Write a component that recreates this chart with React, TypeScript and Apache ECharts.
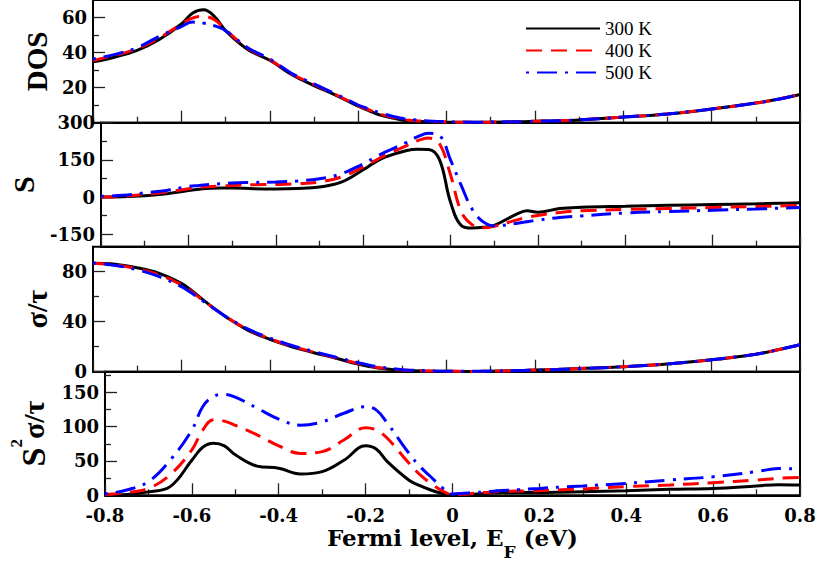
import React, { useEffect, useRef } from 'react';
import * as echarts from 'echarts';

// Fermi level (eV)
const X = [-0.8, -0.75, -0.7, -0.65, -0.6, -0.575, -0.55, -0.525, -0.5, -0.45, -0.4, -0.35, -0.3, -0.25, -0.2, -0.175, -0.15, -0.1, -0.075, -0.05, -0.025, 0, 0.025, 0.05, 0.075, 0.1, 0.15, 0.175, 0.2, 0.25, 0.3, 0.4, 0.5, 0.6, 0.7, 0.75, 0.8];

const TEMPS = ['300 K', '400 K', '500 K'];

const DOS_300 = [34.7, 37.5, 41.3, 47.5, 56.3, 62.5, 64.4, 60.6, 52.5, 41.8, 35.6, 27.4, 21.2, 15.6, 9.4, 6.8, 4.3, 1.5, 0.9, 0.6, 0.4, 0.3, 0.25, 0.2, 0.2, 0.3, 0.5, 0.6, 0.8, 1.1, 1.6, 3.2, 5.0, 7.8, 11.2, 13.4, 16.1];
const DOS_400 = [35.5, 38.5, 42.2, 48.4, 56.3, 59.7, 60.6, 58.7, 53.1, 42.4, 36.0, 27.8, 21.8, 15.9, 9.8, 7.3, 4.9, 1.9, 1.3, 0.8, 0.6, 0.4, 0.3, 0.25, 0.25, 0.3, 0.5, 0.6, 0.8, 1.1, 1.6, 3.2, 5.0, 7.8, 11.2, 13.4, 16.1];
const DOS_500 = [36.3, 39.0, 42.8, 49.3, 54.8, 57.4, 56.8, 55.3, 52.5, 42.8, 36.3, 28.1, 22.1, 16.3, 10.1, 7.8, 5.6, 2.4, 1.7, 1.1, 0.8, 0.6, 0.4, 0.3, 0.3, 0.35, 0.5, 0.6, 0.8, 1.1, 1.6, 3.2, 5.0, 7.8, 11.2, 13.4, 16.1];

const S_300 = [0, 1, 5, 13, 27, 32, 36, 37, 37, 34, 33, 35, 41, 60, 110, 138, 161, 188, 193, 192, 150, -20, -115, -125, -122, -114, -70, -55, -61, -46, -41, -37, -33, -30, -27, -25, -23];
const S_400 = [0, 3, 11, 21, 34, 39, 43, 45, 47, 50, 51, 54, 61, 81, 121, 145, 168, 208, 228, 238, 215, 90, -60, -112, -124, -118, -93, -82, -74, -62, -55, -50, -46, -42, -38, -36, -34];
const S_500 = [3, 7, 17, 27, 43, 47, 51, 54, 57, 59, 61, 65, 74, 94, 134, 158, 181, 221, 244, 257, 248, 150, 45, -50, -100, -116, -106, -99, -93, -82, -76, -64, -58, -53, -48, -45, -42];

const SIG_300 = [86.7, 85.9, 83.2, 78.7, 70.7, 64.5, 57.3, 50.5, 44.0, 33.3, 25.9, 20.0, 15.2, 10.7, 6.1, 4.2, 2.7, 1.1, 0.7, 0.5, 0.4, 0.3, 0.25, 0.2, 0.25, 0.4, 0.8, 1.0, 1.3, 1.8, 2.5, 4.0, 6.2, 9.5, 14.0, 17.5, 21.5];
const SIG_400 = [86.8, 85.5, 82.3, 77.3, 69.5, 63.5, 56.8, 50.3, 44.2, 33.8, 26.4, 20.4, 15.6, 11.0, 6.6, 4.6, 3.1, 1.3, 0.9, 0.6, 0.45, 0.35, 0.3, 0.25, 0.3, 0.45, 0.8, 1.0, 1.3, 1.8, 2.5, 4.0, 6.2, 9.5, 14.0, 17.5, 21.5];
const SIG_500 = [86.9, 85.0, 81.5, 76.0, 68.0, 62.5, 56.3, 50.2, 44.4, 34.3, 27.0, 21.0, 16.1, 11.5, 7.2, 5.2, 3.7, 1.6, 1.1, 0.8, 0.55, 0.4, 0.35, 0.3, 0.35, 0.5, 0.8, 1.0, 1.3, 1.8, 2.5, 4.0, 6.2, 9.5, 14.0, 17.5, 21.5];

const PF_300 = [0, 1, 5, 12.6, 51, 70, 75.7, 72, 59, 42.5, 39.5, 31, 34.5, 51, 72, 67, 49, 22, 14, 7.7, 3, 0.5, 0.5, 1.5, 2.8, 4, 4.2, 4.2, 4.2, 4.6, 5.3, 6.8, 8.7, 10, 13.6, 15.5, 15];
const PF_400 = [1, 4, 10, 30, 66, 95, 110, 108, 102, 88, 72, 61, 63.6, 80.6, 98.5, 95, 83, 46.6, 30, 17.4, 7, 1.4, 1.5, 3, 4.2, 5.3, 6.2, 6.5, 6.8, 8, 9.2, 12.6, 15, 18.4, 22.3, 24.7, 26];
const PF_500 = [2, 7.7, 20, 51, 95, 129, 144, 147, 143, 127, 111, 102, 107, 119.5, 129, 124, 105, 61, 42, 27, 12, 2, 3, 4, 5, 6.3, 8, 9, 10, 12, 13.6, 17.4, 22.3, 27, 34.5, 39, 38];

const X_MAJOR = [-0.8, -0.6, -0.4, -0.2, 0, 0.2, 0.4, 0.6, 0.8];
const X_MINOR = [-0.7, -0.5, -0.3, -0.1, 0.1, 0.3, 0.5, 0.7];

const DOS_TICKS = [20, 40, 60];
const DOS_MINOR = [10, 30, 50];
const S_TICKS = [-150, 0, 150, 300];
const S_MINOR = [-75, 75, 225];
const SIG_TICKS = [0, 40, 80];
const SIG_MINOR = [20, 60];
const PF_TICKS = [0, 50, 100, 150];
const PF_MINOR = [25, 75, 125, 175];

const COLORS = ['#000000', '#ff0000', '#0000ff'];
const DASHES: any[] = ['solid', [16, 9], [3, 8, 20, 8]];

const TICK_FONT = { fontFamily: 'DejaVu Serif', fontWeight: 'bold', fontSize: 18, color: '#000' };
const NAME_FONT = { fontFamily: 'Liberation Serif', fontWeight: 'bold', color: '#000' };

export default function App() {
  const ref = useRef<HTMLDivElement>(null);

  useEffect(() => {
    if (!ref.current) return;
    const chart = echarts.init(ref.current, null, { renderer: 'svg' });

    const panels = [
      { top: -1.5, height: 124.2, min: 0, max: 70, major: DOS_TICKS, minor: DOS_MINOR, data: [DOS_300, DOS_400, DOS_500],
        name: 'DOS', nameGap: 34, nameTextStyle: { ...NAME_FONT, fontSize: 29 } },
      { top: 122.7, height: 124, min: -200, max: 300, major: S_TICKS, minor: S_MINOR, data: [S_300, S_400, S_500],
        name: 'S', nameGap: 63, nameTextStyle: { ...NAME_FONT, fontSize: 30 } },
      { top: 246.7, height: 125, min: 0, max: 100, major: SIG_TICKS, minor: SIG_MINOR, data: [SIG_300, SIG_400, SIG_500],
        name: 'σ/τ', nameGap: 38, nameTextStyle: { ...NAME_FONT, fontSize: 30 } },
      { top: 371.7, height: 123.6, min: 0, max: 180, major: PF_TICKS, minor: PF_MINOR, data: [PF_300, PF_400, PF_500],
        name: '{s|S}{p|2}{g|σ/τ}', nameGap: 35,
        nameTextStyle: { rich: {
          s: { ...NAME_FONT, fontSize: 34 },
          p: { ...NAME_FONT, fontSize: 17, padding: [0, 0, 34, 0] },
          g: { ...NAME_FONT, fontSize: 30 },
        } } },
    ];

    const grid: any[] = [];
    const xAxis: any[] = [];
    const yAxis: any[] = [];
    const series: any[] = [];

    panels.forEach((p, gi) => {
      const isBottom = gi === panels.length - 1;
      grid.push({ left: 93, right: 19, top: p.top, height: p.height, show: true, borderColor: '#000', borderWidth: 2, backgroundColor: 'transparent' });
      // major x axis
      xAxis.push({
        type: 'value', gridIndex: gi, min: -0.8, max: 0.8, position: 'bottom',
        axisLine: { show: true, onZero: false, lineStyle: { color: '#000', width: 2 } },
        axisTick: { show: true, inside: true, length: 12, customValues: X_MAJOR, lineStyle: { color: '#222', width: 1.3 } },
        axisLabel: isBottom
          ? { show: true, customValues: X_MAJOR, margin: 11, ...TICK_FONT,
              formatter: (v: number) => String(Math.round(v * 10) / 10) }
          : { show: false },
        splitLine: { show: false },
        ...(isBottom ? {
          name: '{a|Fermi level, E}{b|F}{a| (eV)}',
          nameLocation: 'middle', nameGap: 20,
          nameTextStyle: { rich: {
            a: { fontFamily: 'DejaVu Serif', fontWeight: 'bold', fontSize: 23, color: '#000' },
            b: { fontFamily: 'DejaVu Serif', fontWeight: 'bold', fontSize: 17, color: '#000', padding: [28, 0, 0, 0] },
          } },
        } : {}),
      });
      // minor x axis
      xAxis.push({
        type: 'value', gridIndex: gi, min: -0.8, max: 0.8, position: 'bottom',
        axisLine: { show: false, onZero: false },
        axisTick: { show: true, inside: true, length: 6, customValues: X_MINOR, lineStyle: { color: '#222', width: 1.3 } },
        axisLabel: { show: false },
        splitLine: { show: false },
      });
      // major y axis
      yAxis.push({
        type: 'value', gridIndex: gi, min: p.min, max: p.max, position: 'left',
        axisLine: { show: true, onZero: false, lineStyle: { color: '#000', width: 2 } },
        axisTick: { show: true, inside: true, length: 12, customValues: p.major, lineStyle: { color: '#222', width: 1.3 } },
        axisLabel: { show: true, customValues: p.major, margin: 6, ...TICK_FONT },
        splitLine: { show: false },
        name: p.name, nameLocation: 'middle', nameGap: p.nameGap, nameTextStyle: p.nameTextStyle,
      });
      // minor y axis
      yAxis.push({
        type: 'value', gridIndex: gi, min: p.min, max: p.max, position: 'left',
        axisLine: { show: false, onZero: false },
        axisTick: { show: true, inside: true, length: 6, customValues: p.minor, lineStyle: { color: '#222', width: 1.3 } },
        axisLabel: { show: false },
        splitLine: { show: false },
      });

      p.data.forEach((arr, ti) => {
        series.push({
          type: 'line', name: TEMPS[ti],
          xAxisIndex: gi * 2, yAxisIndex: gi * 2,
          data: X.map((x, i) => [x, arr[i]]),
          symbol: 'none', showSymbol: false,
          smooth: 0.4,
          lineStyle: { color: COLORS[ti], width: 3, type: DASHES[ti] },
          itemStyle: { color: COLORS[ti] },
          z: 2 + ti,
        });
      });
    });

    chart.setOption({
      animation: false,
      backgroundColor: '#ffffff',
      grid, xAxis, yAxis, series,
      legend: {
        data: TEMPS, orient: 'vertical', left: 520, top: 14,
        itemWidth: 74, itemHeight: 14, itemGap: 3, selectedMode: false,
        itemStyle: { opacity: 0 },
        textStyle: { fontFamily: 'Liberation Serif', fontSize: 19, color: '#000' },
      },
    });

    return () => chart.dispose();
  }, []);

  return <div ref={ref} style={{ position: 'fixed', left: 0, top: 0, width: 819, height: 566, background: '#fff' }} />;
}
